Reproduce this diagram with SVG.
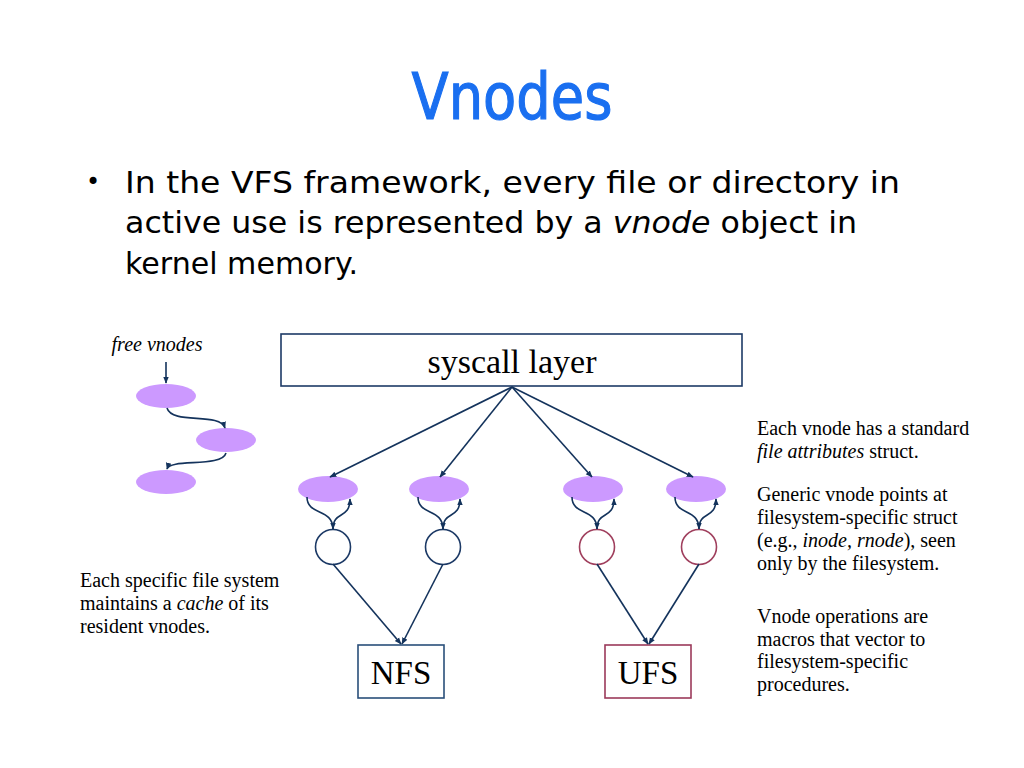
<svg xmlns="http://www.w3.org/2000/svg" width="1024" height="768" viewBox="0 0 1024 768">
<defs>
<marker id="ah" viewBox="0 0 10 10" refX="9" refY="5" markerWidth="7" markerHeight="7" markerUnits="userSpaceOnUse" orient="auto">
<path d="M0,1 L10,5 L0,9 Z" fill="#14335c"/>
</marker>
<style>
.comic{font-family:"Comic Sans MS","DejaVu Sans",sans-serif;}
.serif{font-family:"Liberation Serif","Times New Roman",serif;fill:#000;}
.vn{fill:#cc99ff;stroke:none;}
.conn{fill:none;stroke:#14335c;stroke-width:1.6;marker-end:url(#ah);}
.nfsc{fill:#fff;stroke:#1d3a66;stroke-width:1.6;}
.ufsc{fill:#fff;stroke:#a0405e;stroke-width:1.6;}
</style>
</defs>
<rect width="1024" height="768" fill="#fff"/>
<text class="comic" x="512" y="119" font-size="64" fill="#1a6ff0" text-anchor="middle" textLength="201" lengthAdjust="spacingAndGlyphs" stroke="#1a6ff0" stroke-width="1.2">Vnodes</text>
<g class="comic" font-size="31" fill="#000">
<text x="86" y="190" font-size="24">•</text>
<text x="125" y="193" textLength="775" lengthAdjust="spacingAndGlyphs">In the VFS framework, every file or directory in</text>
<text x="125" y="233" textLength="732" lengthAdjust="spacingAndGlyphs">active use is represented by a <tspan font-style="italic">vnode</tspan> object in</text>
<text x="125" y="274" textLength="233" lengthAdjust="spacingAndGlyphs">kernel memory.</text>
</g>
<g id="free-vnodes">
<text class="serif" x="157" y="351" font-size="20" font-style="italic" text-anchor="middle">free vnodes</text>
<ellipse class="vn" cx="166" cy="396" rx="30" ry="12"/>
<ellipse class="vn" cx="226" cy="440" rx="30" ry="12"/>
<ellipse class="vn" cx="166" cy="482" rx="30" ry="12"/>
</g>
<g id="syscall">
<rect x="281" y="334" width="461" height="52" fill="#fff" stroke="#1d3a66" stroke-width="1.6"/>
<text class="serif" x="512" y="373" font-size="34" text-anchor="middle">syscall layer</text>
</g>
<g id="vnode1"><ellipse class="vn" cx="328" cy="489" rx="30" ry="13"/></g>
<g id="vnode2"><ellipse class="vn" cx="439" cy="489" rx="30" ry="13"/></g>
<g id="vnode3"><ellipse class="vn" cx="593" cy="489" rx="30" ry="13"/></g>
<g id="vnode4"><ellipse class="vn" cx="696" cy="489" rx="30" ry="13"/></g>
<g id="inode1"><circle class="nfsc" cx="333" cy="547" r="17.5"/></g>
<g id="inode2"><circle class="nfsc" cx="443" cy="547" r="17.5"/></g>
<g id="inode3"><circle class="ufsc" cx="597" cy="547" r="17.5"/></g>
<g id="inode4"><circle class="ufsc" cx="699" cy="547" r="17.5"/></g>
<g id="nfs">
<rect x="358" y="645" width="86" height="53" fill="#fff" stroke="#2a4f7a" stroke-width="1.6"/>
<text class="serif" x="401" y="684" font-size="33" text-anchor="middle">NFS</text>
</g>
<g id="ufs">
<rect x="605" y="645" width="86" height="53" fill="#fff" stroke="#9b3a5a" stroke-width="1.6"/>
<text class="serif" x="648" y="684" font-size="33" text-anchor="middle">UFS</text>
</g>
<g id="connectors">
<path class="conn" d="M166,362 L166,383"/>
<path class="conn" d="M167,408 C172,425 220,412 225,428"/>
<path class="conn" d="M226,453 C222,468 170,458 167,469"/>
<path class="conn" d="M512,387 L330,477"/>
<path class="conn" d="M512,387 L440,477"/>
<path class="conn" d="M512,387 L592,477"/>
<path class="conn" d="M512,387 L693,477"/>
<path class="conn" d="M307,497 C307,516 333,508 333,529"/>
<path class="conn" d="M333,529 C333,510 350,520 350,499"/>
<path class="conn" d="M418,497 C418,516 443,508 443,529"/>
<path class="conn" d="M443,529 C443,510 460,520 460,499"/>
<path class="conn" d="M572,497 C572,516 597,508 597,529"/>
<path class="conn" d="M597,529 C597,510 614,520 614,499"/>
<path class="conn" d="M675,497 C675,516 699,508 699,529"/>
<path class="conn" d="M699,529 C699,510 716,520 716,499"/>
<path class="conn" d="M333,564 L401,644"/>
<path class="conn" d="M443,564 L402,644"/>
<path class="conn" d="M597,564 L648,644"/>
<path class="conn" d="M699,564 L649,644"/>
</g>
<g class="serif" font-size="20">
<text x="80" y="587">Each specific file system</text>
<text x="80" y="610">maintains a <tspan font-style="italic">cache</tspan> of its</text>
<text x="80" y="633">resident vnodes.</text>
<text x="757" y="435">Each vnode has a standard</text>
<text x="757" y="458"><tspan font-style="italic">file attributes</tspan> struct.</text>
<text x="757" y="501">Generic vnode points at</text>
<text x="757" y="524">filesystem-specific struct</text>
<text x="757" y="547">(e.g., <tspan font-style="italic">inode, rnode</tspan>), seen</text>
<text x="757" y="570">only by the filesystem.</text>
<text x="757" y="623">Vnode operations are</text>
<text x="757" y="646">macros that vector to</text>
<text x="757" y="668">filesystem-specific</text>
<text x="757" y="691">procedures.</text>
</g>
</svg>
